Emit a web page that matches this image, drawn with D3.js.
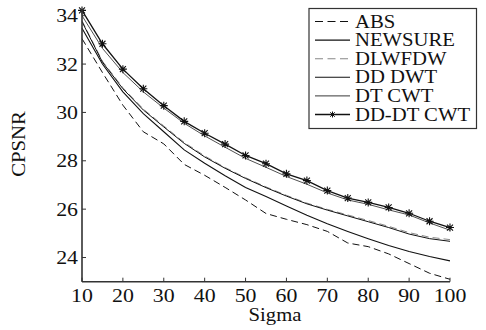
<!DOCTYPE html>
<html><head><meta charset="utf-8">
<script src="https://cdn.jsdelivr.net/npm/d3@7"></script>
<style>
html,body{margin:0;padding:0;background:#fff;}
</style></head>
<body><svg id="c" width="486" height="330"></svg>
<script>
const sigma = [10,15,20,25,30,35,40,45,50,55,60,65,70,75,80,85,90,95,100];
const seriesNames = ["ABS","NEWSURE","DLWFDW","DD DWT","DT CWT","DD-DT CWT"];
const ABS      = [33.05,31.65,30.3,29.2,28.7,27.85,27.4,26.9,26.38,25.82,25.58,25.36,25.08,24.6,24.45,24.15,23.75,23.35,23.1];
const NEWSURE  = [33.48,32.0,30.85,29.95,29.2,28.45,27.9,27.38,26.9,26.52,26.13,25.75,25.4,25.08,24.78,24.5,24.25,24.04,23.86];
const DLWFDW   = [33.8,32.12,31.02,30.14,29.44,28.76,28.2,27.72,27.3,26.92,26.57,26.25,25.99,25.76,25.53,25.29,25.03,24.84,24.74];
const DDDWT    = [33.75,32.08,30.98,30.1,29.4,28.72,28.16,27.69,27.27,26.89,26.54,26.22,25.96,25.72,25.48,25.24,24.97,24.78,24.67];
const DTCWT    = [34.0,32.65,31.65,30.85,30.18,29.55,29.03,28.56,28.1,27.73,27.35,27.03,26.67,26.38,26.2,25.97,25.76,25.43,25.13];
const DDDTCWT  = [34.22,32.84,31.79,30.98,30.28,29.63,29.14,28.69,28.22,27.88,27.46,27.18,26.77,26.46,26.28,26.07,25.83,25.5,25.24];
const xTicks = [10,20,30,40,50,60,70,80,90,100];
const yTicks = [24,26,28,30,32,34];

const values = [ABS,NEWSURE,DLWFDW,DDDWT,DTCWT,DDDTCWT];
const styles = [
  {stroke:"#111", width:1.0, dash:"7,4", marker:false},
  {stroke:"#111", width:1.1, dash:null, marker:false},
  {stroke:"#888", width:1.0, dash:"7,4", marker:false},
  {stroke:"#111", width:1.0, dash:null, marker:false},
  {stroke:"#222", width:0.8, dash:null, marker:false},
  {stroke:"#111", width:1.3, dash:null, marker:true}
];

const svg = d3.select("#c");
const FONT = "Liberation Serif";
const SX = 1.15;
const x = d3.scaleLinear().domain([10,100]).range([82,450]);
const y = d3.scaleLinear().domain([23,34]).range([281.7,15.7]);

function stext(g, tx, ty, str, size, anchor, rot){
  return g.append("text")
    .attr("transform", `translate(${tx},${ty})` + (rot?` rotate(${rot})`:"") + ` scale(${SX},1)`)
    .attr("font-family", FONT).attr("fill","#111")
    .attr("text-anchor", anchor).attr("font-size", size).text(str);
}

// data lines
const line = d3.line().x((d,i)=>x(sigma[i])).y(d=>y(d));
const gLines = svg.append("g");
values.forEach((v,k)=>{
  const s = styles[k];
  gLines.append("path").attr("d", line(v)).attr("fill","none")
    .attr("stroke", s.stroke).attr("stroke-width", s.width)
    .attr("stroke-dasharray", s.dash);
});
function star(cx, cy, r){
  const a = r*0.75;
  return `M${cx},${cy-r}L${cx},${cy+r}M${cx-r},${cy}L${cx+r},${cy}M${cx-a},${cy-a}L${cx+a},${cy+a}M${cx-a},${cy+a}L${cx+a},${cy-a}`;
}
gLines.selectAll(".m").data(DDDTCWT).enter().append("path")
  .attr("d",(d,i)=>star(x(sigma[i]), y(d), 4))
  .attr("stroke","#111").attr("stroke-width",1.1).attr("fill","none");

// axes
const ax = svg.append("g");
ax.append("line").attr("x1",x(10)).attr("x2",x(100)).attr("y1",y(23)).attr("y2",y(23))
  .attr("stroke","#333").attr("stroke-width",1.6);
ax.append("line").attr("x1",x(10)).attr("x2",x(10)).attr("y1",y(23)).attr("y2",y(34.28))
  .attr("stroke","#333").attr("stroke-width",1.6);
xTicks.forEach(t=>{
  ax.append("line").attr("x1",x(t)).attr("x2",x(t)).attr("y1",y(23)).attr("y2",y(23)-4)
    .attr("stroke","#333").attr("stroke-width",1);
  stext(ax, x(t), 301.5, String(t), 19, "middle");
});
yTicks.forEach(t=>{
  ax.append("line").attr("x1",x(10)).attr("x2",x(10)+4).attr("y1",y(t)).attr("y2",y(t))
    .attr("stroke","#333").attr("stroke-width",1);
  stext(ax, 78, y(t)+6.5, String(t), 19, "end");
});
stext(ax, 275, 321, "Sigma", 18, "middle");
stext(ax, 25, 144, "CPSNR", 18, "middle", -90);

// legend
const lg = svg.append("g");
lg.append("rect").attr("x",309).attr("y",8.5).attr("width",167.5).attr("height",120)
  .attr("fill","#fff").attr("stroke","#333").attr("stroke-width",1.2);
seriesNames.forEach((n,k)=>{
  const cy = 21.5 + k*18.6;
  const s = styles[k];
  lg.append("line").attr("x1",315).attr("x2",350).attr("y1",cy).attr("y2",cy)
    .attr("stroke",s.stroke).attr("stroke-width",s.width+0.1).attr("stroke-dasharray",s.dash?"8,4.5":null);
  if(s.marker) lg.append("path").attr("d",star(332.5,cy,3)).attr("stroke","#111").attr("stroke-width",1).attr("fill","none");
  stext(lg, 355, cy+6, n, 18, "start");
});
</script></body></html>
